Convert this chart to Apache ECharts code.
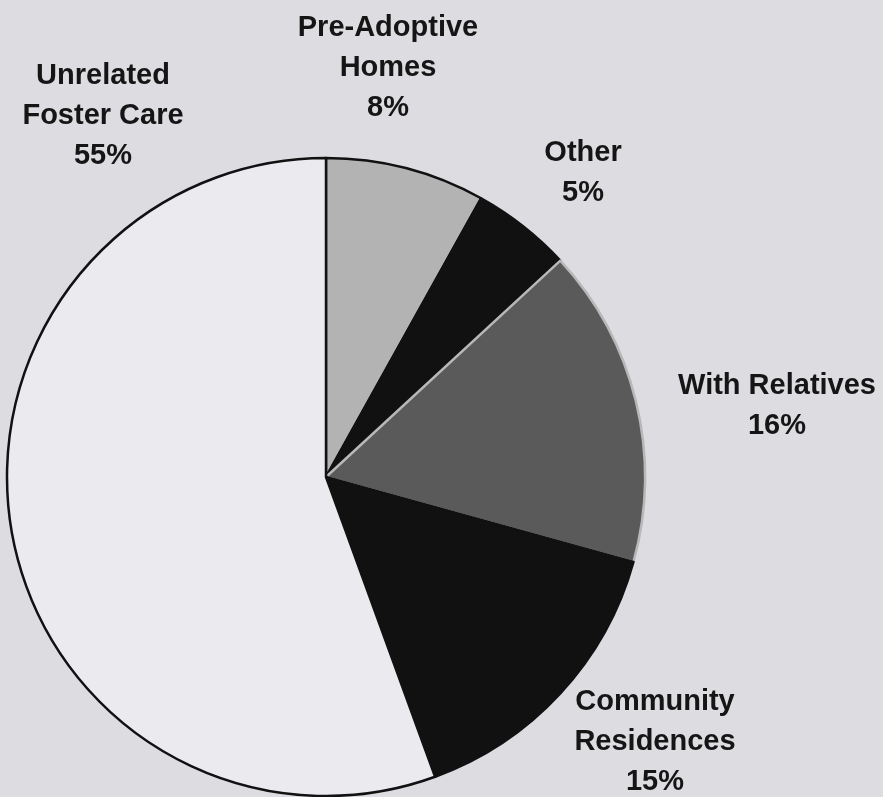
<!DOCTYPE html>
<html>
<head>
<meta charset="utf-8">
<script src="https://cdn.jsdelivr.net/npm/echarts@6/dist/echarts.min.js"></script>
<style>
  html, body { margin: 0; padding: 0; background: #dddce1; }
  #chart { width: 883px; height: 797px; }
</style>
</head>
<body>
<div id="chart"></div>
<script>
// placement types, clockwise from 12 o'clock
const categories = ['Pre-Adoptive\nHomes', 'Other', 'With Relatives', 'Community\nResidences', 'Unrelated\nFoster Care'];
const shares = [8, 5, 16, 15, 55];

const sliceColors = ['#b3b3b3', '#111111', '#5a5a5a', '#111111', '#ebeaef'];
const sliceBorders = ['#111111', '#111111', '#b8b8b8', '#111111', '#111111'];
// label block centres (labels sit where the original put them, not at mid-angle)
const labelSpots = [[388, 68], [583, 173], [777, 406], [655, 742], [103, 116]];

const chart = echarts.init(document.getElementById('chart'), null, { renderer: 'canvas' });

const pieData = categories.map(function (name, i) {
  return {
    name: name,
    value: shares[i],
    itemStyle: { color: sliceColors[i], borderColor: sliceBorders[i] }
  };
});

chart.setOption({
  backgroundColor: '#dddce1',
  animation: false,
  series: [
    {
      type: 'pie',
      center: [326, 477],
      radius: 319,
      startAngle: 90,
      clockwise: true,
      avoidLabelOverlap: false,
      data: pieData,
      itemStyle: { borderWidth: 2.5 },
      label: {
        show: true,
        position: 'inside',
        formatter: '{b}\n{c}%',
        color: '#151515',
        fontFamily: 'Liberation Sans, Arial, sans-serif',
        fontWeight: 'bold',
        fontSize: 29,
        lineHeight: 40,
        align: 'center'
      },
      labelLine: { show: false },
      labelLayout: function (params) {
        const spot = labelSpots[params.dataIndex];
        return { x: spot[0], y: spot[1], align: 'center', verticalAlign: 'middle', hideOverlap: false };
      },
      emphasis: { disabled: true }
    }
  ]
});
</script>
</body>
</html>
